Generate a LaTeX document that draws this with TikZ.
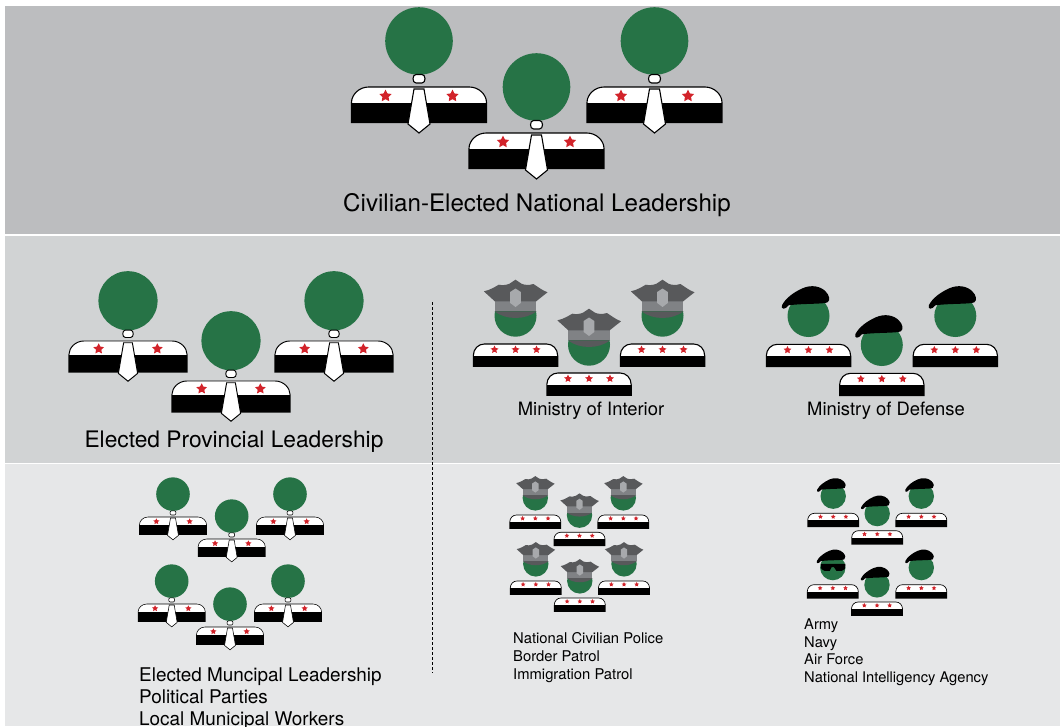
\documentclass[tikz,border=0pt]{standalone}
\usepackage{fontspec}
\setmainfont{TeX Gyre Heros}
\usepackage{tikz}
\definecolor{bandtop}{HTML}{BCBDBF}
\definecolor{bandmid}{HTML}{D1D3D4}
\definecolor{bandlow}{HTML}{E6E7E8}
\definecolor{headgreen}{HTML}{267346}
\definecolor{starred}{HTML}{D2232A}
\definecolor{capdark}{HTML}{58595B}
\definecolor{capband}{HTML}{808285}
\definecolor{capbadge}{HTML}{A7A9AC}
\tikzset{
	caption/.style = {inner sep=0pt, text=black},
	listing/.style = {caption, align=left, anchor=north west}
}
\newcommand{\redstar}[3]{
	\fill [starred, shift={(#1,#2)}, scale=#3] (0,-1) -- (0.294,-0.405) -- (0.951,-0.309) -- (0.476,0.155) -- (0.588,0.809) -- (0,0.5) -- (-0.588,0.809) -- (-0.476,0.155) -- (-0.951,-0.309) -- (-0.294,-0.405) -- cycle;
}
% flag shirt: half width, height, white part, corner
\newcommand{\flagshirt}[5]{
	\draw [fill=white, line width=#5*1.1pt] (-#1,#3) .. controls (-#1,#4*0.45) and (-#1+#4*0.45,0) .. (-#1+#4,0) -- (#1-#4,0) .. controls (#1-#4*0.45,0) and (#1,#4*0.45) .. (#1,#3) -- (#1,#2) -- (-#1,#2) -- cycle;
	\fill [black] (-#1,#3) rectangle (#1,#2);
}
\newcommand{\civilian}[3]{
	\begin{scope}[shift={(#1,#2)}, scale=#3]
		\flagshirt{67.5}{35.5}{15.5}{17}{#3}
		\foreach \s in {-33.5,33.5}
			{\redstar{\s}{9}{6.4}}
		\draw [fill=white, line width=#3*1.1pt] (-5,2) -- (5,2) -- (11,37) -- (0,46) -- (-11,37) -- cycle;
		\fill [headgreen] (0,-46) circle (33.8);
		\draw [fill=white, line width=#3*1.1pt] (-3,-12.5) -- (3,-12.5) .. controls (7,-12.5) and (7,-4) .. (3,-4) -- (-3,-4) .. controls (-7,-4) and (-7,-12.5) .. (-3,-12.5) -- cycle;
	\end{scope}
}
\newcommand{\uniform}[1]{
	\flagshirt{42.2}{22.3}{11.7}{11}{#1}
	\foreach \s in {-21,0,21}
		{\redstar{\s}{5.7}{4}}
	\fill [headgreen] (0,-28.3) circle (21);
}
\newcommand{\police}[3]{
	\begin{scope}[shift={(#1,#2)}, scale=#3]
		\uniform{#3}
		\fill [capdark] (-21,-32.7) -- (21,-32.7) .. controls (10,-23.8) and (-10,-23.8) .. (-21,-32.7) -- cycle;
		\fill [capband] (-20.7,-43) rectangle (20.7,-32.7);
		\fill [capdark] (-31.7,-52.7) .. controls (-25,-54) and (-20,-57.5) .. (-16.7,-59.3) .. controls (-13,-58.5) and (-9,-59) .. (-6,-60.3) -- (0,-64.3) -- (6,-60.3) .. controls (9,-59) and (13,-58.5) .. (18,-60) .. controls (22,-57.5) and (26,-54) .. (32,-51.7) -- (20.7,-42.7) -- (-20.7,-42.7) -- cycle;
		\fill [capbadge] (0,-55.5) -- (5.3,-52) -- (5.3,-41) -- (0,-37) -- (-5.3,-41) -- (-5.3,-52) -- cycle;
	\end{scope}
}
\newcommand{\soldier}[3]{
	\begin{scope}[shift={(#1,#2)}, scale=#3]
		\uniform{#3}
		\fill [black] (-26.5,-39) .. controls (-23,-46) and (-15,-52) .. (-6,-56) .. controls (3,-60) and (12,-58) .. (17,-53) .. controls (21,-49) and (22,-44) .. (19,-42) .. controls (15,-40) and (-5,-41) .. (-20,-39) .. controls (-23,-34.5) and (-28,-34.5) .. (-26.5,-39) -- cycle;
	\end{scope}
}
\newcommand{\shades}[3]{
	\begin{scope}[shift={(#1,#2)}, scale=#3]
		\fill [black] (-20,-34.5) -- (21,-34.5) -- (20,-26) -- (15,-23) -- (6,-23) -- (2,-29) -- (-2,-29) -- (-5,-23) -- (-14,-23) -- (-19,-26) -- cycle;
	\end{scope}
}

\begin{document}
\begin{tikzpicture}[x=1pt, y=-1pt]
	\useasboundingbox (0,0) rectangle (1060,726);
	\fill [bandtop] (5,6) rectangle (1059.5,234);
	\fill [bandmid] (5,235.5) rectangle (1059.5,462.5);
	\fill [bandlow] (5,464) rectangle (1059.5,726);
	\draw [line width=0.8pt, dash pattern=on 3pt off 2pt] (432.7,302) -- (432.7,673);

	\foreach \x/\y in {419/87,536.5/133,654.5/87}
		{\civilian{\x}{\y}{1}}
	\foreach \x/\y in {128/341,231/381,334/341}
		{\civilian{\x}{\y}{0.875}}
	\foreach \x/\y in {173/517,231.7/539,290/517,171.7/604,230/627,288/604}
		{\civilian{\x}{\y}{0.497}}

	\foreach \x/\y in {515.5/344,589/373,662.5/344}
		{\police{\x}{\y}{1}}
	\foreach \x/\y in {535.3/515,579.5/532.3,623.3/515,535.8/581,579.8/598,624/581}
		{\police{\x}{\y}{0.605}}

	\foreach \x/\y in {808.5/344.3,881.8/373.3,955.3/344.3}
		{\soldier{\x}{\y}{1}}
	\foreach \x/\y in {833.2/513.3,877.2/530.7,921.3/513.3,832.8/584.7,877/602,921.3/584.7}
		{\soldier{\x}{\y}{0.605}}
	\shades{832.8}{584.7}{0.605}

	\node [caption, font=\fontsize{24.15}{28}\selectfont] (national) at (537,205.5) {Civilian-Elected National Leadership};
	\node [caption, font=\fontsize{22.75}{27}\selectfont] (provincial) at (234,441.5) {Elected Provincial Leadership};
	\node [caption, font=\fontsize{18.4}{22}\selectfont] (interior) at (591,411) {Ministry of Interior};
	\node [caption, font=\fontsize{18.4}{22}\selectfont] (defense) at (886,411) {Ministry of Defense};
	\node [listing, font=\fontsize{18.9}{22}\selectfont] (municipal) at (139,667.5) {Elected Muncipal Leadership\\Political Parties\\Local Municipal Workers};
	\node [listing, font=\fontsize{14.8}{18}\selectfont] (policing) at (513,632) {National Civilian Police\\Border Patrol\\Immigration Patrol};
	\node [listing, font=\fontsize{14.7}{17.7}\selectfont] (services) at (804,618.5) {Army\\Navy\\Air Force\\National Intelligency Agency};
\end{tikzpicture}
\end{document}
